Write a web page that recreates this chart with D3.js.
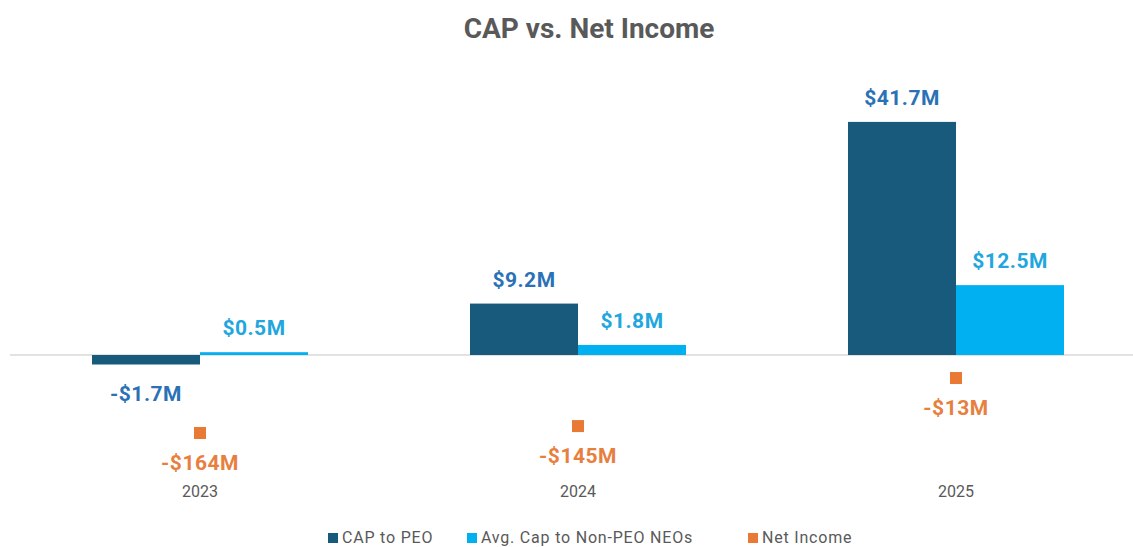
<!DOCTYPE html>
<html>
<head>
<meta charset="utf-8">
<script src="https://cdn.jsdelivr.net/npm/d3@7"></script>
<style>
  body { margin: 0; background: #fff; }
  svg { font-family: Roboto, "Noto Sans", sans-serif; }
</style>
</head>
<body>
<div id="chart"></div>
<script>
// chart data
const years = ['2023', '2024', '2025'];
const capToPeo = [-1.7, 9.2, 41.7];
const capToNeo = [0.5, 1.8, 12.5];
const netIncome = [-164, -145, -13];
const peoLabels = ['-$1.7M', '$9.2M', '$41.7M'];
const neoLabels = ['$0.5M', '$1.8M', '$12.5M'];
const incomeLabels = ['-$164M', '-$145M', '-$13M'];
const seriesNames = ['CAP to PEO', 'Avg. Cap to Non-PEO NEOs', 'Net Income'];

const width = 1133;
const height = 547;

const colors = {
    peo: '#175a7c',
    neo: '#00b0f0',
    income: '#e97a36',
    peoText: '#2a72b5',
    neoText: '#22a6de',
    incomeText: '#e7803f',
    grey: '#595959'
};

const svg = d3.select('#chart')
    .append('svg')
    .attr('width', width)
    .attr('height', height);

// x: one band per year, split in two for the bars
const x = d3.scaleBand()
    .domain(years)
    .range([11, 1145])
    .paddingInner(0.4286)
    .paddingOuter(0.2143);

const xSub = d3.scaleBand()
    .domain(['peo', 'neo'])
    .range([0, x.bandwidth()]);

// primary axis (CAP) and secondary axis (net income), both hidden
const y = d3.scaleLinear()
    .domain([-20, 50])
    .range([466.8, 75.5]);

const y2 = d3.scaleLinear()
    .domain([-200, 0])
    .range([446.1, 373.3]);

// title
svg.append('text')
    .attr('x', 589)
    .attr('y', 38)
    .attr('text-anchor', 'middle')
    .attr('font-size', 28)
    .attr('font-weight', 'bold')
    .attr('fill', colors.grey)
    .text('CAP vs. Net Income');

// zero line
svg.append('line')
    .attr('x1', 10)
    .attr('x2', width)
    .attr('y1', y(0))
    .attr('y2', y(0))
    .attr('stroke', '#d9d9d9')
    .attr('stroke-width', 1.5);

const groups = svg.selectAll('.year')
    .data(years)
    .enter()
    .append('g')
    .attr('class', 'year')
    .attr('transform', d => `translate(${x(d)}, 0)`);

// CAP to PEO bars
groups.append('rect')
    .attr('x', xSub('peo'))
    .attr('width', xSub.bandwidth())
    .attr('y', (d, i) => y(Math.max(0, capToPeo[i])))
    .attr('height', (d, i) => Math.abs(y(capToPeo[i]) - y(0)))
    .attr('fill', colors.peo);

// Avg CAP to non-PEO bars
groups.append('rect')
    .attr('x', xSub('neo'))
    .attr('width', xSub.bandwidth())
    .attr('y', (d, i) => y(Math.max(0, capToNeo[i])))
    .attr('height', (d, i) => Math.abs(y(capToNeo[i]) - y(0)))
    .attr('fill', colors.neo);

// bar value labels
function barLabel(values, labels, key, color) {
    groups.append('text')
        .attr('x', xSub(key) + xSub.bandwidth() / 2)
        .attr('y', (d, i) => values[i] >= 0 ? y(values[i]) - 17 : y(values[i]) + 36)
        .attr('text-anchor', 'middle')
        .attr('font-size', 21)
        .attr('font-weight', 'bold')
        .attr('letter-spacing', 0.5)
        .attr('fill', color)
        .text((d, i) => labels[i]);
}
barLabel(capToPeo, peoLabels, 'peo', colors.peoText);
barLabel(capToNeo, neoLabels, 'neo', colors.neoText);

// net income markers
const mark = 12;
groups.append('rect')
    .attr('x', x.bandwidth() / 2 - mark / 2)
    .attr('y', (d, i) => y2(netIncome[i]) - mark / 2)
    .attr('width', mark)
    .attr('height', mark)
    .attr('fill', colors.income);

groups.append('text')
    .attr('x', x.bandwidth() / 2)
    .attr('y', (d, i) => y2(netIncome[i]) + 37)
    .attr('text-anchor', 'middle')
    .attr('font-size', 21)
    .attr('font-weight', 'bold')
    .attr('letter-spacing', 0.5)
    .attr('fill', colors.incomeText)
    .text((d, i) => incomeLabels[i]);

// year labels
groups.append('text')
    .attr('x', x.bandwidth() / 2)
    .attr('y', 497)
    .attr('text-anchor', 'middle')
    .attr('font-size', 16)
    .attr('fill', colors.grey)
    .text(d => d);

// legend
const legendColors = [colors.peo, colors.neo, colors.income];
const legendX = [328, 467, 748];

const legend = svg.selectAll('.legend-item')
    .data(seriesNames)
    .enter()
    .append('g')
    .attr('class', 'legend-item')
    .attr('transform', (d, i) => `translate(${legendX[i]}, 538)`);

legend.append('rect')
    .attr('y', -5)
    .attr('width', 10)
    .attr('height', 10)
    .attr('fill', (d, i) => legendColors[i]);

legend.append('text')
    .attr('x', 14)
    .attr('y', 5)
    .attr('font-size', 16)
    .attr('letter-spacing', 0.8)
    .attr('fill', colors.grey)
    .text(d => d);
</script>
</body>
</html>
